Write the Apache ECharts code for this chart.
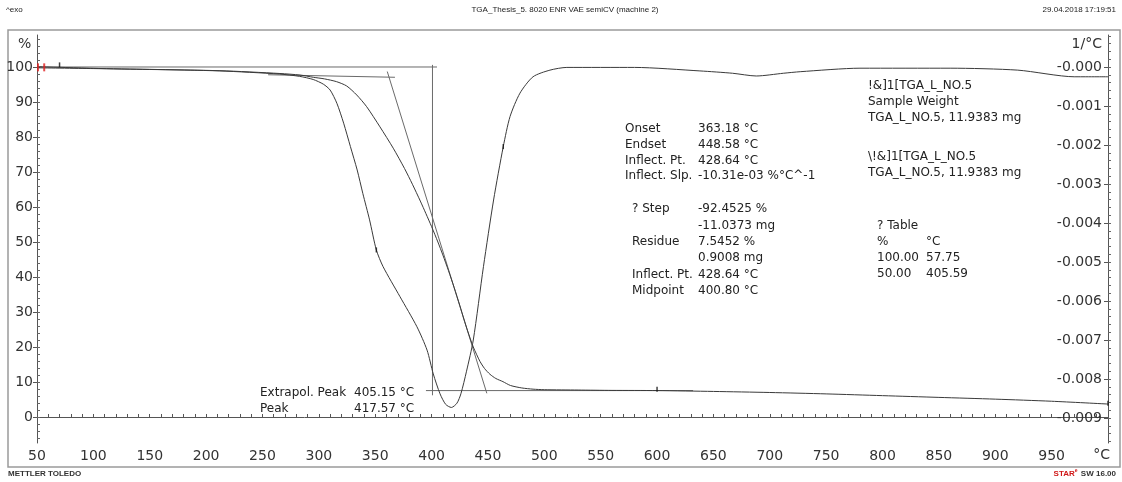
<!DOCTYPE html>
<html>
<head>
<meta charset="utf-8">
<script src="https://cdn.jsdelivr.net/npm/echarts@6/dist/echarts.min.js"></script>
<style>
  html, body { margin: 0; padding: 0; background: #fff; }
  #chart { width: 1122px; height: 482px; }
</style>
</head>
<body>
<div id="chart"></div>
<script>
// TGA weight curve (left axis, %)
const tgaTemp   = [50, 70, 123.6, 212.3, 265.5, 283.3, 295.1, 305, 315.8, 324.7, 333.6, 342.4, 354.2, 366, 376, 383, 390, 395, 400, 405.59, 410, 415, 420, 425, 428.64, 432, 437, 442.9, 447, 451.8, 457, 463.3, 470, 480, 490, 500, 530, 560, 600, 650, 700, 750, 800, 850, 900, 950, 1000];
const tgaWeight = [100.1, 99.9, 99.43, 98.94, 98.14, 97.7, 97.06, 96.6, 95.8, 94.57, 92.0, 88.66, 82.9, 76.8, 71.0, 66.5, 61.7, 58.1, 54.4, 50.0, 46.3, 41.8, 37.0, 31.9, 28.0, 24.6, 20.0, 15.9, 13.85, 12.2, 11.0, 10.1, 9.0, 8.3, 7.95, 7.8, 7.7, 7.6, 7.55, 7.3, 7.0, 6.6, 6.1, 5.6, 5.1, 4.5, 3.7];

// DTG curve (right axis, 1/°C)
const dtgTemp = [50, 100, 150, 212, 265, 283, 295, 304, 310, 316, 322, 328, 334, 339, 345, 351, 357, 372, 387, 396, 401.5, 407.5, 412.5, 417.57, 422.5, 426, 431, 437, 446, 455, 463.6, 469.6, 478.4, 490, 505, 520, 580, 638, 667, 688, 712, 727, 780, 860, 920, 970, 1000];
const dtgRate = [-0.00002, -0.00004, -0.00006, -0.0001, -0.00018, -0.00024, -0.00032, -0.00044, -0.00059, -0.00093, -0.00144, -0.00204, -0.00264, -0.00324, -0.00392, -0.00469, -0.00512, -0.00589, -0.00666, -0.00726, -0.00787, -0.00838, -0.00865, -0.00873, -0.00862, -0.00838, -0.0078, -0.007, -0.00512, -0.00341, -0.00204, -0.00127, -0.00067, -0.00025, -0.00008, -0.00001, -0.00001, -0.0001, -0.00016, -0.00023, -0.00016, -0.00012, -0.00003, -0.00003, -0.00008, -0.00025, -0.00025];

// Evaluation construction lines (temperature, %)
const baselineTangent = [[255, 97.78], [367.5, 97.06]];
const inflectTangent  = [[360.7, 98.7], [449.0, 6.77]];
const stepTopLevel    = [[50, 100], [404.8, 100]];
const residueLevel    = [[395, 7.5452], [632, 7.5452]];
const midpointLine    = [[400.8, 100.6], [400.8, 6.2]];

// Small curve markers
const tgaMarks = [[70, 100.6], [600, 7.9], [1000, 3.9]];
const dtgMarks = [[351, -0.00469], [463.6, -0.00204]];
const limitMarks = [[50.9, 99.9], [56.4, 99.9]];

// Tick labels
const tempTicks   = [50, 100, 150, 200, 250, 300, 350, 400, 450, 500, 550, 600, 650, 700, 750, 800, 850, 900, 950];
const weightTicks = [0, 10, 20, 30, 40, 50, 60, 70, 80, 90, 100];
const rateTicks   = [0, -0.001, -0.002, -0.003, -0.004, -0.005, -0.006, -0.007, -0.008, -0.009];

// Annotation text
const headerLeft  = '^exo';
const headerTitle = 'TGA_Thesis_5. 8020 ENR VAE semiCV (machine 2)';
const headerDate  = '29.04.2018 17:19:51';
const evalNames1  = ['Onset', 'Endset', 'Inflect. Pt.', 'Inflect. Slp.'];
const evalVals1   = ['363.18 °C', '448.58 °C', '428.64 °C', '-10.31e-03 %°C^-1'];
const evalNames2  = ['? Step', '', 'Residue', '', 'Inflect. Pt.', 'Midpoint'];
const evalVals2   = ['-92.4525 %', '-11.0373 mg', '7.5452 %', '0.9008 mg', '428.64 °C', '400.80 °C'];
const sampleInfo1 = ['!&]1[TGA_L_NO.5', 'Sample Weight', 'TGA_L_NO.5, 11.9383 mg'];
const sampleInfo2 = ['\\!&]1[TGA_L_NO.5', 'TGA_L_NO.5, 11.9383 mg'];
const tableTitle  = '? Table';
const tableCol1   = ['%', '100.00', '50.00'];
const tableCol2   = ['°C', '57.75', '405.59'];
const peakNames   = ['Extrapol. Peak', 'Peak'];
const peakVals    = ['405.15 °C', '417.57 °C'];

const zip = (a, b) => a.map((v, i) => [v, b[i]]);
const range = (a, b, s) => { const r = []; for (let v = a; v <= b + 1e-9; v += s) r.push(+v.toFixed(6)); return r; };

const FONT = '"DejaVu Sans", Verdana, sans-serif';
const SMALL = '"Liberation Sans Narrow", "Liberation Sans", Arial, sans-serif';
const TXT = '#222';
const CURVE = '#3a3a3a';
const AUX = '#6a6a6a';

const chart = echarts.init(document.getElementById('chart'), null, { renderer: 'canvas' });

function text(x, y, str, opts = {}) {
  return {
    type: 'text', x: x, y: y, silent: true,
    style: Object.assign({
      text: str, fill: TXT, font: '12px ' + FONT,
      textAlign: 'left', textVerticalAlign: 'middle'
    }, opts)
  };
}

const graphics = [
  { type: 'rect', shape: { x: 8, y: 30, width: 1112, height: 437 },
    style: { fill: 'none', stroke: '#9a9a9a', lineWidth: 1.5 }, silent: true, z: -1 },
  text(6, 10, headerLeft, { font: '8px ' + SMALL }),
  text(565, 10, headerTitle, { textAlign: 'center', font: '8px ' + SMALL }),
  text(1116, 10, headerDate, { textAlign: 'right', font: '8px ' + SMALL }),
  text(8, 474, 'METTLER TOLEDO', { font: 'bold 8px "Liberation Sans", sans-serif', fill: '#333' }),
  {
    type: 'text', x: 1116, y: 474, silent: true,
    style: {
      text: '{r|STAR}{s|e} {k|SW 16.00}', textAlign: 'right', textVerticalAlign: 'middle',
      rich: {
        r: { fill: '#d01818', font: 'bold 8px "Liberation Sans", sans-serif' },
        s: { fill: '#d01818', font: 'bold 5px "Liberation Sans", sans-serif', verticalAlign: 'top' },
        k: { fill: '#333', font: 'bold 8px "Liberation Sans", sans-serif' }
      }
    }
  },
  text(18, 44, '%', { font: '14px ' + FONT, fill: '#333' }),
  text(1102, 44, '1/°C', { font: '14px ' + FONT, fill: '#333', textAlign: 'right' }),
  text(1110, 455, '°C', { font: '14px ' + FONT, fill: '#333', textAlign: 'right' })
];

evalNames1.forEach((s, i) => {
  graphics.push(text(625, 129 + i * 15.7, s));
  graphics.push(text(698, 129 + i * 15.7, evalVals1[i]));
});
evalNames2.forEach((s, i) => {
  if (s) graphics.push(text(632, 209 + i * 16.4, s));
  graphics.push(text(698, 209 + i * 16.4, evalVals2[i]));
});
sampleInfo1.forEach((s, i) => graphics.push(text(868, 86 + i * 16, s)));
sampleInfo2.forEach((s, i) => graphics.push(text(868, 157 + i * 16, s)));
graphics.push(text(877, 226, tableTitle));
tableCol1.forEach((s, i) => {
  graphics.push(text(877, 242 + i * 16, s));
  graphics.push(text(926, 242 + i * 16, tableCol2[i]));
});
peakNames.forEach((s, i) => {
  graphics.push(text(260, 393 + i * 16, s));
  graphics.push(text(354, 393 + i * 16, peakVals[i]));
});

const axisLabelStyle = { fontFamily: FONT, fontSize: 14, color: '#333' };
const LEFT_MIN = -7.43, LEFT_MAX = 109.14;
const RIGHT_MIN = -0.009641, RIGHT_MAX = 0.000821;

function auxLine(data) {
  return {
    type: 'line', data: data, yAxisIndex: 0, symbol: 'none', silent: true,
    lineStyle: { color: AUX, width: 1 }, z: 1
  };
}

chart.setOption({
  animation: false,
  backgroundColor: '#fff',
  grid: { left: 37, right: 14, top: 35, bottom: 39, containLabel: false },
  xAxis: {
    type: 'value', min: 50, max: 1000,
    axisLine: { show: true, lineStyle: { color: '#555', width: 1 } },
    axisTick: { show: true, inside: true, length: 3, customValues: range(50, 1000, 10), lineStyle: { color: '#555' } },
    axisLabel: Object.assign({ customValues: tempTicks, margin: 6 }, axisLabelStyle),
    splitLine: { show: false }
  },
  yAxis: [
    {
      type: 'value', position: 'left', min: LEFT_MIN, max: LEFT_MAX,
      axisLine: { show: true, lineStyle: { color: '#555' } },
      axisTick: { show: true, length: 4, customValues: weightTicks, lineStyle: { color: '#555' } },
      axisLabel: Object.assign({ customValues: weightTicks, margin: 4 }, axisLabelStyle),
      splitLine: { show: false }
    },
    {
      type: 'value', position: 'right', min: RIGHT_MIN, max: RIGHT_MAX,
      axisLine: { show: true, lineStyle: { color: '#555' } },
      axisTick: { show: true, inside: true, length: 4, customValues: rateTicks, lineStyle: { color: '#555' } },
      axisLabel: Object.assign({
        customValues: rateTicks, inside: true, margin: 6,
        formatter: v => '-' + Math.abs(v).toFixed(3)
      }, axisLabelStyle),
      splitLine: { show: false }
    },
    {
      type: 'value', position: 'left', min: LEFT_MIN, max: LEFT_MAX,
      axisLine: { show: false },
      axisTick: { show: true, inside: true, length: 3, customValues: range(-6, 108, 2), lineStyle: { color: '#666' } },
      axisLabel: { show: false }, splitLine: { show: false }
    },
    {
      type: 'value', position: 'right', min: RIGHT_MIN, max: RIGHT_MAX,
      axisLine: { show: false },
      axisTick: { show: true, inside: false, length: 3, customValues: range(-9.6, 0.8, 0.2).map(v => +(v / 1000).toFixed(7)), lineStyle: { color: '#666' } },
      axisLabel: { show: false }, splitLine: { show: false }
    }
  ],
  series: [
    auxLine(stepTopLevel),
    auxLine(residueLevel),
    auxLine(midpointLine),
    auxLine(baselineTangent),
    auxLine(inflectTangent),
    {
      name: 'TGA', type: 'line', yAxisIndex: 0, data: zip(tgaTemp, tgaWeight),
      symbol: 'none', smooth: 0.25,
      lineStyle: { color: CURVE, width: 1 }, z: 3
    },
    {
      name: 'DTG', type: 'line', yAxisIndex: 1, data: zip(dtgTemp, dtgRate),
      symbol: 'none', smooth: 0.25,
      lineStyle: { color: CURVE, width: 1 }, z: 3
    },
    {
      type: 'scatter', yAxisIndex: 0, data: tgaMarks, symbol: 'rect', symbolSize: [1.5, 5],
      itemStyle: { color: '#111' }, silent: true, z: 4
    },
    {
      type: 'scatter', yAxisIndex: 1, data: dtgMarks, symbol: 'rect', symbolSize: [1.5, 5],
      itemStyle: { color: '#111' }, silent: true, z: 4
    },
    {
      type: 'scatter', yAxisIndex: 0, data: limitMarks, symbol: 'rect', symbolSize: [2, 8],
      itemStyle: { color: '#e02020' }, silent: true, z: 5
    }
  ],
  graphic: graphics
});
</script>
</body>
</html>
